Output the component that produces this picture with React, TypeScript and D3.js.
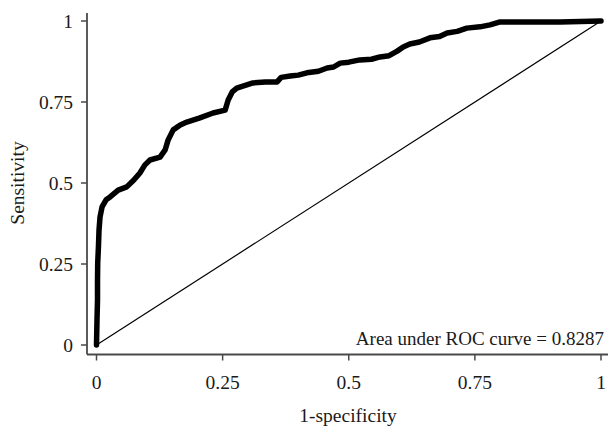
import React from 'react';
import * as d3 from 'd3';

// ROC curve points (1-specificity, sensitivity)
const fpr = [0, 0.001, 0.002, 0.002, 0.0024, 0.004, 0.005, 0.007, 0.011, 0.019, 0.027, 0.043, 0.06, 0.074,
    0.086, 0.096, 0.106, 0.126, 0.136, 0.142, 0.152, 0.166, 0.179, 0.205, 0.231, 0.255, 0.261, 0.269,
    0.278, 0.31, 0.335, 0.358, 0.366, 0.384, 0.4, 0.417, 0.44, 0.457, 0.47, 0.483, 0.5, 0.522, 0.545,
    0.562, 0.58, 0.596, 0.608, 0.621, 0.64, 0.661, 0.68, 0.695, 0.715, 0.734, 0.76, 0.78, 0.8, 0.919, 1];
const tpr = [0, 0.077, 0.139, 0.2, 0.253, 0.309, 0.355, 0.395, 0.426, 0.448, 0.457, 0.478, 0.488, 0.509,
    0.531, 0.556, 0.571, 0.58, 0.602, 0.633, 0.664, 0.679, 0.688, 0.701, 0.716, 0.725, 0.756, 0.781,
    0.793, 0.809, 0.812, 0.812, 0.826, 0.83, 0.833, 0.84, 0.845, 0.855, 0.858, 0.87, 0.873, 0.88, 0.882,
    0.889, 0.893, 0.907, 0.92, 0.929, 0.935, 0.948, 0.952, 0.963, 0.968, 0.978, 0.982, 0.988, 0.997, 0.997, 1];

const xTicks = [0, 0.25, 0.5, 0.75, 1];
const yTicks = [0, 0.25, 0.5, 0.75, 1];
const areaLabel = 'Area under ROC curve = 0.8287';

const App = () => {
    const width = 608;
    const height = 428;
    const font = '"Liberation Serif", "Times New Roman", serif';
    const axisColor = '#4a4a4a';

    const x = d3.scaleLinear().domain([0, 1]).range([96.5, 601]);
    const y = d3.scaleLinear().domain([0, 1]).range([345, 21]);

    const points = fpr.map((f, i) => [f, tpr[i]]);
    const line = d3.line()
        .x(d => x(d[0]))
        .y(d => y(d[1]));

    const axisX = 87;
    const axisY = 354.5;

    return (
        <svg width={width} height={height}
            style={{ position: 'absolute', left: 0, top: 0, background: '#fff' }}
            fontFamily={font}>
            {/* diagonal reference */}
            <line x1={x(0)} y1={y(0)} x2={x(1)} y2={y(1)} stroke="#000" strokeWidth={1.2} />

            {/* ROC curve */}
            <path d={line(points)} fill="none" stroke="#000" strokeWidth={5.5}
                strokeLinejoin="round" strokeLinecap="round" />

            {/* y axis */}
            <line x1={axisX} y1={13} x2={axisX} y2={axisY} stroke={axisColor} strokeWidth={1.8} />
            {yTicks.map(t => (
                <g key={'y' + t}>
                    <line x1={axisX - 6} x2={axisX} y1={y(t)} y2={y(t)} stroke={axisColor} strokeWidth={1.5} />
                    <text x={73} y={y(t)} dy="0.35em" textAnchor="end" fontSize={19.5} fill="#1a1a1a">{t}</text>
                </g>
            ))}

            {/* x axis */}
            <line x1={axisX} y1={axisY} x2={width} y2={axisY} stroke={axisColor} strokeWidth={1.8} />
            {xTicks.map(t => (
                <g key={'x' + t}>
                    <line x1={x(t)} x2={x(t)} y1={axisY} y2={axisY + 6} stroke={axisColor} strokeWidth={1.5} />
                    <text x={x(t)} y={389} textAnchor="middle" fontSize={19.5} fill="#1a1a1a">{t}</text>
                </g>
            ))}

            <text x={604} y={345} textAnchor="end" fontSize={19} fill="#1a1a1a">{areaLabel}</text>

            <text x={348} y={422} textAnchor="middle" fontSize={19.5} fill="#1a1a1a">1-specificity</text>
            <text transform={`translate(24, ${y(0.5)}) rotate(-90)`} textAnchor="middle"
                fontSize={19.5} fill="#1a1a1a">Sensitivity</text>
        </svg>
    );
};

export default App;
